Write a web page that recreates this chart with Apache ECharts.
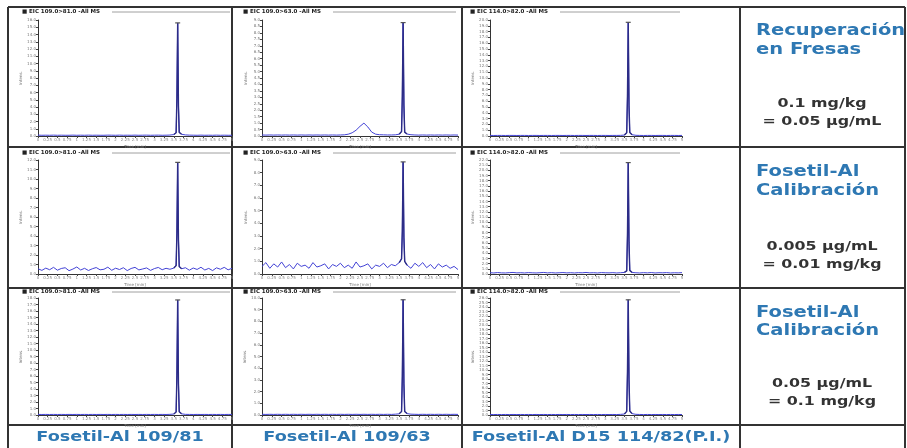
<!DOCTYPE html>
<html>
<head>
<meta charset="utf-8">
<script src="https://cdn.jsdelivr.net/npm/echarts@6/dist/echarts.min.js"></script>
<style>
html, body { margin: 0; padding: 0; background: #fff; }
#chart { width: 907px; height: 448px; }
</style>
</head>
<body>
<div id="chart"></div>
<script>
// retention time (min), shared by all nine traces
var times = [0.0,0.1,0.2,0.3,0.4,0.5,0.6,0.7,0.8,0.9,
  1.0,1.1,1.2,1.3,1.4,1.5,1.6,1.7,1.8,1.9,
  2.0,2.1,2.2,2.3,2.4,2.5,2.6,2.7,2.8,2.9,
  3.0,3.1,3.2,3.3,3.4,3.5,3.56,3.58,3.6,3.62,
  3.64,3.7,3.8,3.9,4.0,4.1,4.2,4.3,4.4,4.5,
  4.6,4.7,4.8,4.9,5.0];

// intensities (x10^4), row 1 = recuperación en fresas
var rec109_81 = [0.12,0.10,0.11,0.10,0.12,0.10,0.11,0.10,0.10,0.12,
  0.10,0.11,0.10,0.12,0.10,0.11,0.10,0.10,0.12,0.11,
  0.10,0.12,0.10,0.11,0.10,0.12,0.10,0.11,0.12,0.10,
  0.11,0.12,0.10,0.11,0.13,0.20,0.45,5.20,15.60,4.10,
  0.50,0.24,0.15,0.12,0.11,0.10,0.12,0.10,0.11,0.10,
  0.12,0.10,0.11,0.10,0.10];
var rec109_63 = [0.08,0.07,0.08,0.07,0.08,0.07,0.08,0.07,0.08,0.07,
  0.08,0.07,0.08,0.07,0.08,0.07,0.08,0.07,0.08,0.07,
  0.08,0.09,0.14,0.25,0.45,0.75,1.00,0.70,0.30,0.14,
  0.10,0.09,0.08,0.08,0.09,0.14,0.35,3.10,8.80,2.40,
  0.30,0.15,0.10,0.08,0.07,0.08,0.07,0.08,0.07,0.08,
  0.07,0.08,0.07,0.08,0.07];
var recD15 = [0.10,0.09,0.10,0.10,0.09,0.10,0.10,0.09,0.10,0.10,
  0.09,0.10,0.10,0.09,0.10,0.10,0.09,0.10,0.10,0.09,
  0.10,0.10,0.09,0.10,0.10,0.09,0.10,0.10,0.09,0.10,
  0.10,0.09,0.10,0.10,0.11,0.16,0.55,6.80,19.60,5.20,
  0.60,0.22,0.12,0.10,0.09,0.10,0.10,0.09,0.10,0.10,
  0.09,0.10,0.10,0.09,0.10];

// row 2 = calibración 0.005 µg/mL
var cal1_109_81 = [0.55,0.38,0.62,0.45,0.70,0.40,0.58,0.66,0.35,0.52,
  0.74,0.42,0.60,0.37,0.55,0.68,0.44,0.50,0.72,0.39,
  0.61,0.47,0.66,0.36,0.58,0.70,0.43,0.53,0.64,0.38,
  0.57,0.69,0.45,0.60,0.50,0.62,0.90,4.30,11.75,3.60,
  0.80,0.55,0.66,0.40,0.63,0.48,0.71,0.42,0.59,0.36,
  0.65,0.50,0.70,0.44,0.60];
var cal1_109_63 = [0.60,0.90,0.45,0.80,0.55,0.95,0.50,0.75,0.40,0.85,
  0.60,0.70,0.45,0.90,0.55,0.65,0.80,0.40,0.75,0.60,
  0.85,0.50,0.70,0.45,0.95,0.55,0.65,0.80,0.40,0.70,
  0.60,0.85,0.50,0.75,0.65,0.90,1.20,3.40,8.85,2.90,
  1.00,0.70,0.45,0.85,0.60,0.90,0.50,0.75,0.40,0.80,
  0.55,0.70,0.45,0.60,0.35];
var cal1_D15 = [0.25,0.20,0.28,0.22,0.20,0.26,0.30,0.22,0.25,0.20,
  0.27,0.23,0.20,0.25,0.30,0.22,0.26,0.20,0.24,0.28,
  0.22,0.25,0.20,0.26,0.23,0.30,0.22,0.25,0.20,0.27,
  0.24,0.22,0.26,0.20,0.25,0.30,0.60,7.50,21.50,6.10,
  0.70,0.30,0.24,0.20,0.26,0.22,0.28,0.20,0.25,0.23,
  0.27,0.20,0.24,0.22,0.26];

// row 3 = calibración 0.05 µg/mL
var cal2_109_81 = [0.09,0.08,0.09,0.08,0.09,0.08,0.09,0.08,0.09,0.08,
  0.09,0.08,0.09,0.08,0.09,0.08,0.09,0.08,0.09,0.08,
  0.09,0.08,0.09,0.08,0.09,0.08,0.09,0.08,0.09,0.08,
  0.09,0.08,0.09,0.08,0.10,0.15,0.45,6.10,17.70,4.80,
  0.50,0.18,0.10,0.09,0.08,0.09,0.08,0.09,0.08,0.09,
  0.08,0.09,0.08,0.09,0.08];
var cal2_109_63 = [0.06,0.05,0.06,0.05,0.06,0.05,0.06,0.05,0.06,0.05,
  0.06,0.05,0.06,0.05,0.06,0.05,0.06,0.05,0.06,0.05,
  0.06,0.05,0.06,0.05,0.06,0.05,0.06,0.05,0.06,0.05,
  0.06,0.05,0.06,0.05,0.07,0.10,0.30,3.30,9.85,2.70,
  0.30,0.12,0.07,0.06,0.05,0.06,0.05,0.06,0.05,0.06,
  0.05,0.06,0.05,0.06,0.05];
var cal2_D15 = [0.12,0.10,0.12,0.10,0.12,0.10,0.12,0.10,0.12,0.10,
  0.12,0.10,0.12,0.10,0.12,0.10,0.12,0.10,0.12,0.10,
  0.12,0.10,0.12,0.10,0.12,0.10,0.12,0.10,0.12,0.10,
  0.12,0.10,0.12,0.10,0.14,0.22,0.80,9.50,25.60,7.80,
  0.90,0.30,0.15,0.12,0.10,0.12,0.10,0.12,0.10,0.12,
  0.10,0.12,0.10,0.12,0.10];

var traces = [rec109_81, rec109_63, recD15,
              cal1_109_81, cal1_109_63, cal1_D15,
              cal2_109_81, cal2_109_63, cal2_D15];
var yMaxes = [16, 9, 20, 12, 9, 22, 18, 10, 26];
var yIntervals = [1, 0.5, 1, 1, 1, 1, 1, 1, 1];

var transitions = ['Fosetil-Al 109/81', 'Fosetil-Al 109/63', 'Fosetil-Al D15 114/82(P.I.)'];
var eicTitles = ['\u25A0 EIC 109.0>81.0 -All MS', '\u25A0 EIC 109.0>63.0 -All MS', '\u25A0 EIC 114.0>82.0 -All MS'];
var rowTitles = [['Recuperación', 'en Fresas'], ['Fosetil-Al', 'Calibración'], ['Fosetil-Al', 'Calibración']];
var rowConc = [['0.1 mg/kg', '= 0.05 µg/mL'], ['0.005 µg/mL', '= 0.01 mg/kg'], ['0.05 µg/mL', '= 0.1 mg/kg']];

traces.forEach(function (t) {
  if (t.length !== times.length) throw new Error('length mismatch ' + t.length);
});

// page layout
var colPlotLeft = [38, 262, 490];
var colPlotWidth = [194, 196, 192];
var rowPlotTop = [20, 160, 298];
var rowPlotHeight = [116, 114, 117];
var tableX = [8, 232, 462, 740, 905];
var tableY = [7, 147, 288, 425];
var titleBarY = [12, 153, 292];
var titleBarX = [22, 243, 470];

var FONT = 'DejaVu Sans';
var blue = '#4343d6';
var peakBlue = '#2c2c86';
var labelBlue = '#2e78b3';

var grids = [], xAxes = [], yAxes = [], series = [];
traces.forEach(function (vals, k) {
  var r = Math.floor(k / 3), c = k % 3;
  grids.push({
    left: colPlotLeft[c], top: rowPlotTop[r],
    width: colPlotWidth[c], height: rowPlotHeight[r]
  });
  xAxes.push({
    gridIndex: k, type: 'value', min: 0, max: 5, interval: 0.25,
    name: 'Time [min]', nameLocation: 'middle', nameGap: 9,
    nameTextStyle: { fontSize: 4, color: '#777', fontFamily: FONT },
    axisLine: { lineStyle: { color: '#333', width: 1 } },
    axisTick: { length: 2, lineStyle: { color: '#444' } },
    axisLabel: { fontSize: 4, color: '#888', margin: 2, fontFamily: FONT },
    splitLine: { show: false }
  });
  yAxes.push({
    gridIndex: k, type: 'value', min: 0, max: yMaxes[k], interval: yIntervals[k],
    name: 'Intens.', nameLocation: 'middle', nameGap: 14, nameRotate: 90,
    nameTextStyle: { fontSize: 4, color: '#777', fontFamily: FONT },
    axisLine: { show: true, lineStyle: { color: '#333', width: 1 } },
    axisTick: { show: true, length: 2, lineStyle: { color: '#444' } },
    axisLabel: { fontSize: 4, color: '#777', margin: 2, fontFamily: FONT,
      formatter: function (v) { return v.toFixed(1); } },
    splitLine: { show: false }
  });
  var pts = times.map(function (t, i) { return [t, vals[i]]; });
  series.push({
    type: 'line', xAxisIndex: k, yAxisIndex: k, data: pts,
    showSymbol: false, silent: true, animation: false,
    lineStyle: { color: blue, width: 1 },
    markPoint: {
      data: [{ type: 'max' }], symbol: 'rect', symbolSize: [5, 1.2],
      itemStyle: { color: '#555' }, label: { show: false }, animation: false
    }
  });
  // peak segment redrawn darker, taken from the same points
  series.push({
    type: 'line', xAxisIndex: k, yAxisIndex: k, data: pts.slice(35, 42),
    showSymbol: false, silent: true, animation: false,
    lineStyle: { color: peakBlue, width: 1.4 }
  });
});

var graphics = [];
function line(x1, y1, x2, y2, color, w) {
  graphics.push({ type: 'line', silent: true,
    shape: { x1: x1, y1: y1, x2: x2, y2: y2 },
    style: { stroke: color, lineWidth: w } });
}
function text(x, y, s, size, color, align, sx, weight) {
  graphics.push({ type: 'text', x: x, y: y, scaleX: sx, silent: true,
    style: { text: s, fontSize: size, fontWeight: weight || 'bold', fontFamily: FONT,
      fill: color, align: align, verticalAlign: 'middle' } });
}

// table grid
tableY.forEach(function (y) { line(tableX[0], y, tableX[4], y, '#333', 2); });
tableX.forEach(function (x) { line(x, tableY[0], x, 448, '#333', 2); });

// trace title bars
for (var r = 0; r < 3; r++) {
  for (var c = 0; c < 3; c++) {
    line(titleBarX[c] + 90, titleBarY[r], colPlotLeft[c] + colPlotWidth[c] - 2, titleBarY[r], '#888', 0.8);
    text(titleBarX[c], titleBarY[r], eicTitles[c], 5.5, '#222', 'left', 1);
  }
}

// bottom transition labels
transitions.forEach(function (s, c) {
  text((tableX[c] + tableX[c + 1]) / 2, 437, s, 14, labelBlue, 'center', 1.26);
});

// right column descriptions
var titleY = [[31, 50], [172, 191], [313, 331]];
var concY = [[104, 122], [247, 265], [384, 402]];
for (var i = 0; i < 3; i++) {
  text(756, titleY[i][0], rowTitles[i][0], 15, labelBlue, 'left', 1.3);
  text(756, titleY[i][1], rowTitles[i][1], 15, labelBlue, 'left', 1.3);
  text(822, concY[i][0], rowConc[i][0], 13, '#333', 'center', 1.22);
  text(822, concY[i][1], rowConc[i][1], 13, '#333', 'center', 1.22);
}

var chart = echarts.init(document.getElementById('chart'));
chart.setOption({
  animation: false,
  backgroundColor: '#fff',
  grid: grids,
  xAxis: xAxes,
  yAxis: yAxes,
  series: series,
  graphic: graphics
});
</script>
</body>
</html>
